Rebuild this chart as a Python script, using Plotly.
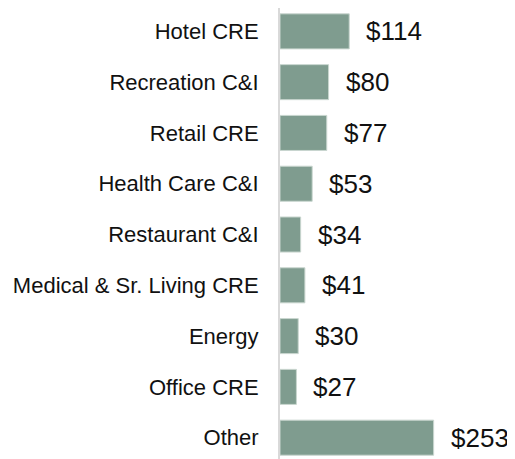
import plotly.graph_objects as go

categories = ["Hotel CRE", "Recreation C&I", "Retail CRE", "Health Care C&I", "Restaurant C&I",
              "Medical & Sr. Living CRE", "Energy", "Office CRE", "Other"]
values = [114, 80, 77, 53, 34, 41, 30, 27, 253]
value_labels = ["$" + str(v) for v in values]

BAR = "#7f9c8f"
FONT = "Liberation Sans, Arial, sans-serif"

fig = go.Figure()
fig.add_trace(go.Bar(
    x=values, y=categories, orientation="h",
    marker=dict(color=BAR, line=dict(color="#c9d6cf", width=1)),
    hoverinfo="skip",
))

for c, v, t in zip(categories, values, value_labels):
    fig.add_annotation(x=v, y=c, text=t, showarrow=False, xanchor="left", yanchor="middle",
                       xshift=15, font=dict(family=FONT, size=26, color="#111111"))

# page body adds an 8px offset; figure sized/margined to compensate
fig.update_layout(
    width=507, height=451,
    margin=dict(l=272, r=0, t=0, b=0, autoexpand=False),
    paper_bgcolor="white", plot_bgcolor="white",
    bargap=0.31,
    showlegend=False,
    xaxis=dict(range=[0, 387], visible=False, fixedrange=True),
    yaxis=dict(
        type="category", categoryorder="array", categoryarray=categories,
        range=[8.42, -0.46],
        showline=True, linecolor="#d9d9d9", linewidth=2,
        showgrid=False, zeroline=False, ticks="",
        ticklabelstandoff=15,
        tickfont=dict(family=FONT, size=22, color="#111111"),
    ),
)

fig.write_html("out.html")
